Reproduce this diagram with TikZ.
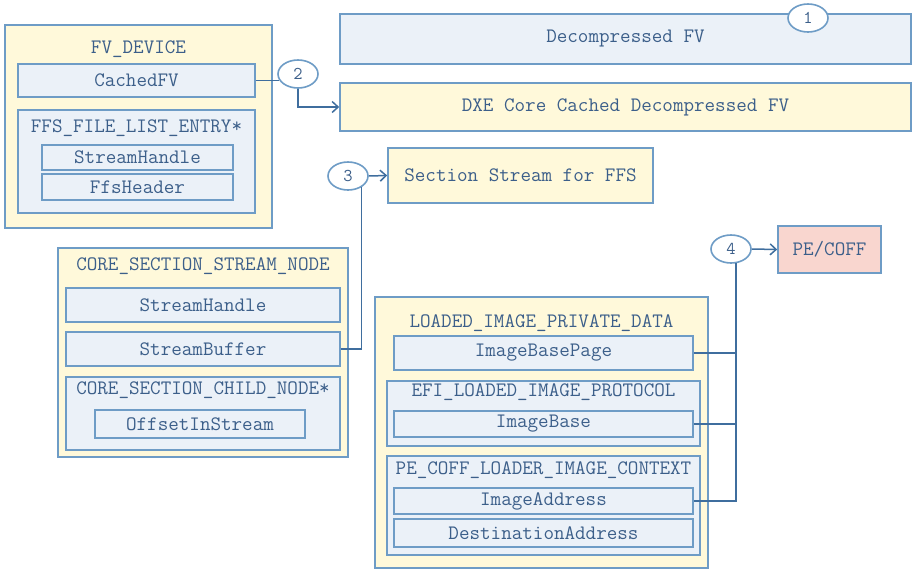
\documentclass[tikz,border=0pt]{standalone}
\usepackage{fontspec}
\newfontfamily\boxfont{Latin Modern Mono}
\usetikzlibrary{arrows.meta,shapes.geometric}

\definecolor{boxline}{HTML}{6E9CC6}
\definecolor{wireline}{HTML}{3F6E9E}
\definecolor{boxtext}{HTML}{3C5F8A}
\definecolor{yellowbg}{HTML}{FFF9DA}
\definecolor{bluebg}{HTML}{EBF1F8}
\definecolor{pinkbg}{HTML}{F9D6CF}

\begin{document}
\begin{tikzpicture}[x=1pt, y=-1pt, >={Straight Barb[length=6pt,width=11pt]},
    holder/.style={draw=boxline, fill=yellowbg, line width=1.6pt, inner sep=0pt, text=boxtext, font=\boxfont\fontsize{20.5}{22}\selectfont},
    fieldgroup/.style={draw=boxline, fill=bluebg, line width=1.6pt, inner sep=0pt},
    field/.style={draw=boxline, fill=bluebg, line width=1.6pt, inner sep=0pt, text=boxtext, font=\boxfont\fontsize{20.5}{22}\selectfont},
    boxtitle/.style={text=boxtext, inner sep=0pt, font=\boxfont\fontsize{20.5}{22}\selectfont},
    badge/.style={ellipse, draw=boxline, fill=white, line width=1.6pt, minimum width=40, minimum height=28, inner sep=0pt, text=boxtext, font=\boxfont\fontsize{18}{20}\selectfont},
    wire/.style={draw=wireline, line width=1.5pt}]

            \fill[white] (0,0) rectangle (914,571);
            \useasboundingbox (0,0) rectangle (914,571);

% ---- FV_DEVICE ----
            \node[holder, minimum width=267, minimum height=203] (fvdev) at (138.5,126.5) {};
            \node[boxtitle] (fvdevtitle) at (138.5,49) {FV\_DEVICE};
            \node[field, minimum width=237, minimum height=33] (cachedfv) at (136.5,80.5) {CachedFV};
            \node[fieldgroup, minimum width=237, minimum height=103] (ffslist) at (136.5,161.5) {};
            \node[boxtitle] (ffslisttitle) at (136.5,128) {FFS\_FILE\_LIST\_ENTRY*};
            \node[field, minimum width=191, minimum height=25] (ffshandle) at (137.5,157.5) {StreamHandle};
            \node[field, minimum width=191, minimum height=26] (ffsheader) at (137.5,187) {FfsHeader};

% ---- Firmware volumes ----
            \node[field, minimum width=571, minimum height=50] (decfv) at (625.5,39) {Decompressed FV};
            \node[holder, minimum width=571, minimum height=48] (dxefv) at (625.5,107) {DXE Core Cached Decompressed FV};
            \node[holder, minimum width=265, minimum height=55] (secstream) at (520.5,175.5) {Section Stream for FFS};
            \node[holder, fill=pinkbg, minimum width=103, minimum height=47] (pecoffimg) at (829.5,249.5) {PE/COFF};

% ---- CORE_SECTION_STREAM_NODE ----
            \node[holder, minimum width=290, minimum height=209] (csnode) at (203,352.5) {};
            \node[boxtitle] (csnodetitle) at (203,266) {CORE\_SECTION\_STREAM\_NODE};
            \node[field, minimum width=274, minimum height=34] (cshandle) at (203,305) {StreamHandle};
            \node[field, minimum width=274, minimum height=34] (csbuffer) at (203,349) {StreamBuffer};
            \node[fieldgroup, minimum width=274, minimum height=73] (cschild) at (203,413.5) {};
            \node[boxtitle] (cschildtitle) at (203,390) {CORE\_SECTION\_CHILD\_NODE*};
            \node[field, minimum width=210, minimum height=28] (csoffset) at (200,424) {OffsetInStream};

% ---- LOADED_IMAGE_PRIVATE_DATA ----
            \node[holder, minimum width=333, minimum height=271] (lipd) at (541.5,432.5) {};
            \node[boxtitle] (lipdtitle) at (541.5,323) {LOADED\_IMAGE\_PRIVATE\_DATA};
            \node[field, minimum width=299, minimum height=34] (ibpage) at (543.5,353) {ImageBasePage};
            \node[fieldgroup, minimum width=313, minimum height=65] (elip) at (543.5,413.5) {};
            \node[boxtitle] (eliptitle) at (543.5,392) {EFI\_LOADED\_IMAGE\_PROTOCOL};
            \node[field, minimum width=299, minimum height=26] (ibase) at (543.5,424) {ImageBase};
            \node[fieldgroup, minimum width=313, minimum height=99] (pectx) at (543.5,505.5) {};
            \node[boxtitle] (pectxtitle) at (543.5,470) {PE\_COFF\_LOADER\_IMAGE\_CONTEXT};
            \node[field, minimum width=299, minimum height=26] (iaddr) at (543.5,501) {ImageAddress};
            \node[field, minimum width=299, minimum height=28] (daddr) at (543.5,533) {DestinationAddress};

% ---- Step badges ----
            \node[badge] (badge1) at (808,18) {1};
            \node[badge] (badge2) at (298,74) {2};
            \node[badge] (badge3) at (348,176) {3};
            \node[badge] (badge4) at (731,249) {4};

% ---- Connectors ----
            \draw[wire] (cachedfv.east) -- (cachedfv.east -| badge2.200);
            \draw[wire,->] (badge2.south) |- (dxefv.west);
            \draw[wire] (csbuffer.east) -| (badge3.-40);
            \draw[wire,->] (badge3.east) -- (secstream.west);
            \foreach \f in {ibpage,ibase} {
                \draw[wire] (\f.east) -- (\f.east -| badge4.-70);
            }
            \draw[wire] (iaddr.east) -| (badge4.-70);
            \draw[wire,->] (badge4.east) -- (pecoffimg.west);

\end{tikzpicture}
\end{document}
